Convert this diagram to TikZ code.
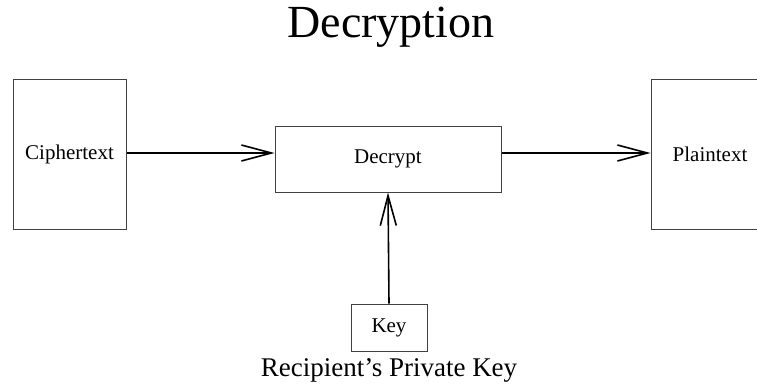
\documentclass[tikz,border=0pt]{standalone}
\usepackage{fontspec}
\setmainfont{Liberation Serif}
\usetikzlibrary{arrows.meta}
\begin{document}
\begin{tikzpicture}[x=1pt,y=-1pt,
  box/.style={draw=black!75,line width=1pt,inner sep=0pt,font=\fontsize{21}{24}\selectfont},
  conn/.style={line width=1.6pt,-{Straight Barb[length=30pt,width=16pt,line width=1.6pt]}}]
\clip (0,0) rectangle (757,388);
\node[font=\fontsize{46}{50}\selectfont] (title) at (391,27) {Decryption};
\node[box,minimum width=113pt,minimum height=150pt] (cipher) at (69.5,154) {Ciphertext};
\node[box,minimum width=226pt,minimum height=66pt] (dec) at (388,159) {Decrypt};
\node[box,minimum width=118pt,minimum height=150pt] (plain) at (710,154) {Plaintext};
\node[box,minimum width=76pt,minimum height=47pt] (key) at (389,327.5) {Key};
\node[font=\fontsize{27}{30}\selectfont] (cap) at (389,370) {Recipient’s Private Key};
\draw[conn] (cipher.east |- 0,153) -- (dec.west |- 0,153);
\draw[conn] (dec.east |- 0,153) -- (plain.west |- 0,153);
\draw[conn] (key.north) -- (dec.south);
\end{tikzpicture}
\end{document}
